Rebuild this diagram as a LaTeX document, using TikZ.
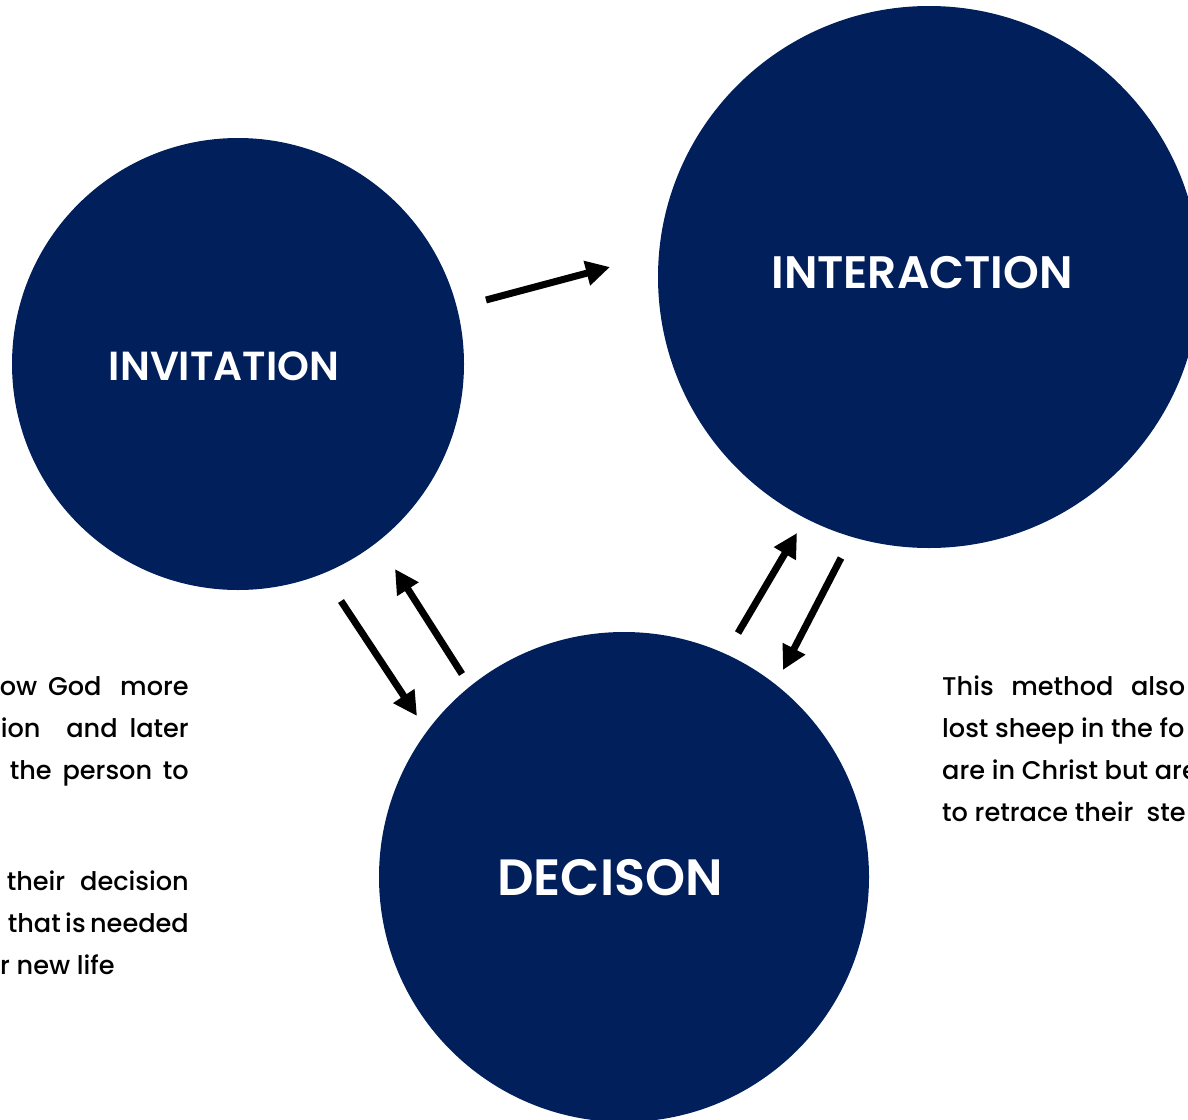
\documentclass[tikz,border=0pt]{standalone}
\usepackage{fontspec}
\setmainfont{Poppins Medium}
\newfontfamily\headfont{Poppins SemiBold}
\usetikzlibrary{arrows.meta}
\definecolor{navy}{RGB}{1,31,91}
\begin{document}
\begin{tikzpicture}[x=1pt,y=-1pt,
  stage/.style={circle,fill=navy,inner sep=0pt},
  title/.style={text=white,font=\headfont\fontsize{45.5}{50}\selectfont,inner sep=0pt},
  body/.style={font=\fontsize{25.6}{42}\selectfont,inner sep=0pt},
  flow/.style={line width=7pt,-{Triangle[length=24pt,width=24pt]}}]
\useasboundingbox (0,0) rectangle (1188,1119);
\clip (0,0) rectangle (1188,1119);

% the three stages
\node[stage,minimum size=452pt] (inv) at (238,364) {};
\node[stage,minimum size=542pt] (int) at (929,277) {};
\node[stage,minimum size=490pt] (dec) at (624,877) {};

\node[title,font=\headfont\fontsize{40.6}{46}\selectfont] (tinv) at (224,366) {INVITATION};
\node[title] (tint) at (922,273) {INTERACTION};
\node[title,font=\headfont\fontsize{51}{56}\selectfont] (tdec) at (610,878) {DECISON};

% arrow end points
\coordinate (a1s) at (486,300); \coordinate (a1e) at (610,267);
\coordinate (a2s) at (341,601); \coordinate (a2e) at (417,716);
\coordinate (a3s) at (462,674); \coordinate (a3e) at (395,569);
\coordinate (a4s) at (738,633); \coordinate (a4e) at (797,533);
\coordinate (a5s) at (841,558); \coordinate (a5e) at (783,670);

\draw[flow] (a1s) -- (a1e);
\draw[flow] (a2s) -- (a2e);
\draw[flow] (a3s) -- (a3e);
\draw[flow] (a4s) -- (a4e);
\draw[flow] (a5s) -- (a5e);

% left text column (justified lines)
\node[body,anchor=base east] (l1) at (189,695) {\makebox[189pt][s]{ow God\hspace{8pt} more}};
\node[body,anchor=base east] (l2) at (189,737) {\makebox[188pt][s]{ion\hspace{14pt} and later}};
\node[body,anchor=base east] (l3) at (189,779) {\makebox[179pt][s]{the person to}};
\node[body,anchor=base east] (l4) at (189,890) {\makebox[182pt][s]{their\hspace{4pt} decision}};
\node[body,anchor=base east] (l5) at (189,932) {\makebox[181pt][s]{that is needed}};
\node[body,anchor=base west] (l6) at (0,974) {r new life};

% right text column
\node[body,anchor=base west] (r1) at (942,695) {\makebox[243pt][s]{This method also}};
\node[body,anchor=base west] (r2) at (942,737) {lost sheep in the fo};
\node[body,anchor=base west] (r3) at (942,779) {are in Christ but are};
\node[body,anchor=base west] (r4) at (942,821) {to retrace their\ \ ste};
\end{tikzpicture}
\end{document}
